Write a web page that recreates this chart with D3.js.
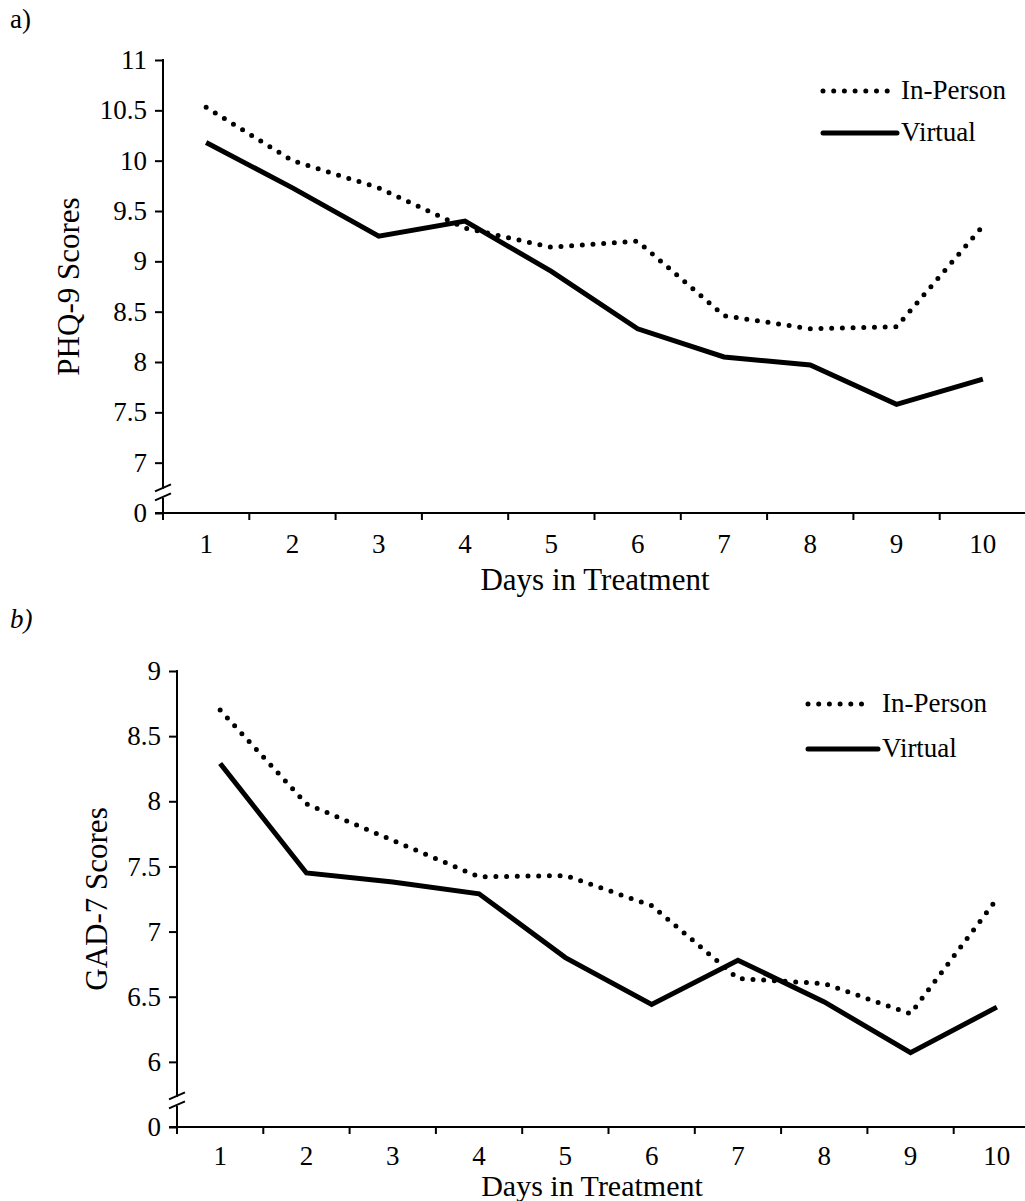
<!DOCTYPE html>
<html>
<head>
<meta charset="utf-8">
<script src="https://cdn.jsdelivr.net/npm/d3@7"></script>
<style>
  body { margin: 0; background: #fff; }
  svg, svg text { font-family: "Liberation Serif", Tinos, "DejaVu Serif", serif !important; fill: #000; }
</style>
</head>
<body>
<svg id="fig" width="1025" height="1201"></svg>
<script>
// Days of treatment (x categories)
var DAYS = [1, 2, 3, 4, 5, 6, 7, 8, 9, 10];

// a) PHQ-9 mean scores
var PHQ_INPERSON = [10.53, 10.0, 9.73, 9.33, 9.14, 9.2, 8.46, 8.33, 8.35, 9.35];
var PHQ_VIRTUAL  = [10.18, 9.73, 9.25, 9.4, 8.9, 8.33, 8.05, 7.97, 7.58, 7.83];
var PHQ_TICKS = [0, 7, 7.5, 8, 8.5, 9, 9.5, 10, 10.5, 11];

// b) GAD-7 mean scores
var GAD_INPERSON = [8.7, 7.98, 7.7, 7.42, 7.43, 7.2, 6.64, 6.6, 6.37, 7.25];
var GAD_VIRTUAL  = [8.29, 7.45, 7.38, 7.29, 6.8, 6.44, 6.78, 6.46, 6.07, 6.42];
var GAD_TICKS = [0, 6, 6.5, 7, 7.5, 8, 8.5, 9];

var SERIES_NAMES = ["In-Person", "Virtual"];

var svg = d3.select("#fig");

drawPanel({
  label: "a)", italic: false, labelY: 28,
  x0: 163, y0: 513, yTop: 60,
  lo: 6.5, hi: 11, ticks: PHQ_TICKS,
  inperson: PHQ_INPERSON, virtual: PHQ_VIRTUAL,
  ytitle: "PHQ-9 Scores", ytitleX: 79,
  xpad: 21, xtitleX: 595, xtitleY: 590, xtitleSize: 31,
  legX: 823, legY: 91, legGap: 42, legLen: 66
});

drawPanel({
  label: "b)", italic: true, labelY: 628,
  x0: 177, y0: 1127, yTop: 671,
  lo: 5.5, hi: 9, ticks: GAD_TICKS,
  inperson: GAD_INPERSON, virtual: GAD_VIRTUAL,
  ytitle: "GAD-7 Scores", ytitleX: 107,
  xpad: 19, xtitleX: 592, xtitleY: 1196, xtitleSize: 30,
  legX: 808, legY: 704, legGap: 45, legLen: 62
});

// Draws one panel: broken y axis (0 then lo..hi), band x axis with ticks
// between categories, two series and a small legend.
function drawPanel(c) {
  var g = svg.append("g");
  var bw = 86.3;

  var x = d3.scaleBand().domain(DAYS).range([c.x0, c.x0 + bw * DAYS.length]);
  // polylinear: everything from 0 up to the break sits on the x axis
  var y = d3.scaleLinear().domain([0, c.lo, c.hi]).range([c.y0, c.y0, c.yTop]);

  // panel letter
  g.append("text")
    .attr("x", 10).attr("y", c.labelY)
    .style("font-size", "27px")
    .style("font-style", c.italic ? "italic" : "normal")
    .text(c.label);

  // y axis
  var ya = g.append("g").attr("transform", "translate(" + c.x0 + ",0)")
    .call(d3.axisLeft(y).tickValues(c.ticks).tickSize(8).tickPadding(8).tickFormat(d3.format("")));
  ya.attr("font-family", null);
  ya.select(".domain").remove();
  ya.selectAll(".tick line").attr("stroke", "#000").attr("stroke-width", 2);
  ya.selectAll(".tick text").style("font-size", "27px").attr("fill", "#000");

  // axis line with break
  var firstTick = c.ticks[1];
  var yFirst = y(firstTick);
  var brk = yFirst + (c.y0 - yFirst) * 0.6;
  g.append("line").attr("x1", c.x0).attr("x2", c.x0).attr("y1", c.yTop - 1).attr("y2", brk - 4)
    .attr("stroke", "#000").attr("stroke-width", 2);
  g.append("line").attr("x1", c.x0).attr("x2", c.x0).attr("y1", brk + 5).attr("y2", c.y0)
    .attr("stroke", "#000").attr("stroke-width", 2);
  [-5, 4].forEach(function (o) {
    g.append("line")
      .attr("x1", c.x0 - 8).attr("y1", brk + o + 3.5)
      .attr("x2", c.x0 + 8).attr("y2", brk + o - 3.5)
      .attr("stroke", "#000").attr("stroke-width", 2);
  });

  // x axis: labels centred in bands, ticks on band edges
  var xa = g.append("g").attr("transform", "translate(0," + c.y0 + ")")
    .call(d3.axisBottom(x).tickSize(0).tickPadding(c.xpad));
  xa.attr("font-family", null);
  xa.select(".domain").remove();
  xa.selectAll(".tick text").style("font-size", "27px").attr("fill", "#000");
  g.append("line").attr("x1", c.x0 - 8).attr("x2", 1025).attr("y1", c.y0).attr("y2", c.y0)
    .attr("stroke", "#000").attr("stroke-width", 2);
  g.selectAll("line.xtick").data(DAYS).enter()
    .append("line").attr("class", "xtick")
    .attr("x1", d => x(d)).attr("x2", d => x(d))
    .attr("y1", c.y0).attr("y2", c.y0 + 7)
    .attr("stroke", "#000").attr("stroke-width", 2);

  // titles
  g.append("text")
    .attr("x", c.xtitleX).attr("y", c.xtitleY)
    .attr("text-anchor", "middle")
    .style("font-size", c.xtitleSize + "px")
    .text("Days in Treatment");
  g.append("text")
    .attr("transform", "translate(" + c.ytitleX + "," + (c.yTop + c.y0) / 2 + ") rotate(-90)")
    .attr("text-anchor", "middle")
    .style("font-size", "31px")
    .text(c.ytitle);

  // series
  var line = d3.line()
    .x((d, i) => x(DAYS[i]) + x.bandwidth() / 2)
    .y(d => y(d));

  g.append("path").datum(c.inperson)
    .attr("d", line)
    .attr("fill", "none").attr("stroke", "#000").attr("stroke-width", 5)
    .attr("stroke-linecap", "round").attr("stroke-dasharray", "0,10.7");
  g.append("path").datum(c.virtual)
    .attr("d", line)
    .attr("fill", "none").attr("stroke", "#000").attr("stroke-width", 5)
    .attr("stroke-linejoin", "miter");

  // legend
  var leg = g.selectAll("g.leg").data(SERIES_NAMES).enter()
    .append("g").attr("class", "leg")
    .attr("transform", (d, i) => "translate(" + c.legX + "," + (c.legY + i * c.legGap) + ")");
  leg.append("line")
    .attr("x1", 0).attr("x2", (d, i) => i == 0 ? c.legLen : c.legLen + 8)
    .attr("y1", 0).attr("y2", 0)
    .attr("stroke", "#000").attr("stroke-width", 5)
    .attr("stroke-linecap", "round")
    .attr("stroke-dasharray", (d, i) => i == 0 ? "0,10.7" : null);
  leg.append("text")
    .attr("x", c.legLen + 12).attr("y", 8)
    .style("font-size", "27px")
    .text(d => d);
}
</script>
</body>
</html>
